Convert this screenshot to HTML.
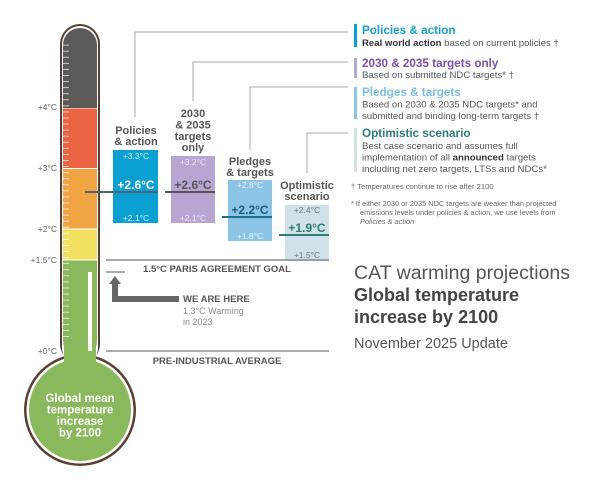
<!DOCTYPE html>
<html><head><meta charset="utf-8"><style>
body{margin:0;background:#fff;width:600px;height:491px;overflow:hidden}
svg text{font-family:"Liberation Sans",sans-serif}
</style></head><body>
<svg width="600" height="491" viewBox="0 0 600 491" xmlns="http://www.w3.org/2000/svg">
<defs>
<pattern id="tk" x="0" y="2.2" width="20" height="6.07" patternUnits="userSpaceOnUse">
<rect x="0" y="0" width="9" height="0.9" fill="#fff" opacity="0.75"/>
</pattern>
<clipPath id="tube"><rect x="63" y="28" width="34" height="330" rx="17"/></clipPath>
</defs>
<rect x="60" y="24" width="40" height="340" rx="20" fill="#5b3e33"/>
<circle cx="80" cy="410" r="56" fill="#5b3e33"/>
<rect x="62" y="26" width="36" height="340" rx="18" fill="#fff"/>
<circle cx="80" cy="410" r="53.5" fill="#fff"/>
<g clip-path="url(#tube)">
<rect x="63" y="28" width="34" height="80" fill="#5d5958"/>
<rect x="63" y="108.5" width="34" height="59.5" fill="#ea6444"/>
<rect x="63" y="169" width="34" height="59.5" fill="#f1a444"/>
<rect x="63" y="229.5" width="34" height="30" fill="#f2e060"/>
<rect x="63" y="260.5" width="34" height="100" fill="#8ab85c"/>
<rect x="63" y="44" width="12" height="306" fill="url(#tk)"/>
</g>
<circle cx="80" cy="410" r="51" fill="#8ab85c"/>
<rect x="64" y="340" width="32" height="30" fill="#8ab85c"/>
<rect x="88" y="272" width="4" height="79" fill="#fff"/>
<text x="80" y="402" font-size="11.5" font-weight="bold" fill="#fff" text-anchor="middle">
<tspan x="80" y="402">Global mean</tspan><tspan x="80" y="413.5">temperature</tspan><tspan x="80" y="425">increase</tspan><tspan x="80" y="436.5">by 2100</tspan></text>
<g font-size="8.5" fill="#666" text-anchor="end">
<text x="57" y="110">+4°C</text><text x="57" y="171">+3°C</text><text x="57" y="232">+2°C</text><text x="57" y="263">+1.5°C</text><text x="57" y="354">+0°C</text>
</g>
<g stroke="#aaa" stroke-width="1" fill="none">
<polyline points="135,117 135,32 348,32"/>
<polyline points="193,101 193,62 348,62"/>
<polyline points="250,150 250,87 348,87"/>
<polyline points="307,173 307,133 348,133"/>
</g>
<g font-size="11" font-weight="bold" fill="#555" text-anchor="middle">
<text x="136" y="134">Policies</text><text x="136" y="145">&amp; action</text>
<text x="193" y="117">2030</text><text x="193" y="128.5">&amp; 2035</text><text x="193" y="140">targets</text><text x="193" y="151">only</text>
<text x="250" y="165">Pledges</text><text x="250" y="176">&amp; targets</text>
<text x="307" y="189">Optimistic</text><text x="307" y="200">scenario</text>
</g>
<rect x="113" y="150" width="45" height="73" fill="#0aa0d2"/>
<rect x="171" y="156" width="44" height="67" fill="#b8a6d2"/>
<rect x="228" y="180" width="44" height="61" fill="#8cc4e6"/>
<rect x="285" y="205" width="44" height="56" fill="#cfe2ea"/>
<line x1="85" y1="192" x2="158" y2="192" stroke="#4a6478" stroke-width="2"/>
<line x1="165" y1="192" x2="215" y2="192" stroke="#555" stroke-width="2"/>
<line x1="222" y1="217" x2="272" y2="217" stroke="#1d6e8e" stroke-width="2"/>
<line x1="279" y1="235" x2="329" y2="235" stroke="#2f7a7a" stroke-width="2"/>
<g text-anchor="middle" font-size="8.5">
<text x="136" y="159" fill="#d6eef8">+3.3°C</text><text x="136" y="189" fill="#fff" font-size="12" font-weight="bold">+2.6°C</text><text x="136" y="221" fill="#d6eef8">+2.1°C</text>
<text x="193" y="165" fill="#ece6f4">+3.2°C</text><text x="193" y="189" fill="#555" font-size="12" font-weight="bold">+2.6°C</text><text x="193" y="221" fill="#ece6f4">+2.1°C</text>
<text x="250" y="188" fill="#e6f3fb">+2.8°C</text><text x="250" y="214" fill="#1d5e7e" font-size="12" font-weight="bold">+2.2°C</text><text x="250" y="239" fill="#e6f3fb">+1.8°C</text>
<text x="307" y="213" fill="#6a7a80">+2.4°C</text><text x="307" y="232" fill="#2f7a6a" font-size="12" font-weight="bold">+1.9°C</text><text x="307" y="258" fill="#6a7a80">+1.5°C</text>
</g>
<line x1="106" y1="260" x2="329" y2="260" stroke="#777" stroke-width="1.3"/>
<text x="217" y="272" font-size="9.5" font-weight="bold" fill="#555" text-anchor="middle">1.5°C PARIS AGREEMENT GOAL</text>
<line x1="106" y1="272" x2="125" y2="272" stroke="#777" stroke-width="1.3"/>
<polygon points="115,276 109,284 121,284" fill="#666"/>
<polyline points="115,283 115,299 179,299" fill="none" stroke="#666" stroke-width="6"/>
<text x="183" y="302" font-size="9.5" font-weight="bold" fill="#555">WE ARE HERE</text>
<text x="183" y="314" font-size="9" fill="#888">1.3°C Warming</text>
<text x="183" y="325" font-size="9" fill="#888">in 2023</text>
<line x1="106" y1="351" x2="329" y2="351" stroke="#777" stroke-width="1.3"/>
<text x="217" y="364" font-size="9.5" font-weight="bold" fill="#555" text-anchor="middle">PRE-INDUSTRIAL AVERAGE</text>
<rect x="354" y="24" width="3" height="23" fill="#0aa0d2"/>
<text x="362" y="34" font-size="11.7" font-weight="bold" fill="#1aa0d0">Policies &amp; action</text>
<text x="362" y="46" font-size="9.6" fill="#555"><tspan font-weight="bold" fill="#333">Real world action</tspan> based on current policies †</text>
<rect x="354" y="58" width="3" height="20" fill="#b8a6d2"/>
<text x="362" y="67" font-size="11.7" font-weight="bold" fill="#7b50a6">2030 &amp; 2035 targets only</text>
<text x="362" y="78" font-size="9.6" fill="#555">Based on submitted NDC targets* †</text>
<rect x="354" y="87" width="3" height="32" fill="#8cc4e6"/>
<text x="362" y="96" font-size="11.7" font-weight="bold" fill="#7cbde4">Pledges &amp; targets</text>
<text x="362" y="107.5" font-size="9.6" fill="#555">Based on 2030 &amp; 2035 NDC targets* and</text>
<text x="362" y="119" font-size="9.6" fill="#555">submitted and binding long-term targets †</text>
<rect x="354" y="128" width="3" height="44" fill="#cfe2ea"/>
<text x="362" y="137" font-size="11.7" font-weight="bold" fill="#2f7a7a">Optimistic scenario</text>
<text x="362" y="149" font-size="9.6" fill="#555">Best case scenario and assumes full</text>
<text x="362" y="160.5" font-size="9.6" fill="#555">implementation of all <tspan font-weight="bold" fill="#333">announced</tspan> targets</text>
<text x="362" y="172" font-size="9.6" fill="#555">including net zero targets, LTSs and NDCs*</text>
<text x="351" y="189" font-size="7.6" fill="#666">† Temperatures continue to rise after 2100</text>
<text x="351" y="206" font-size="7.4" fill="#666">* If either 2030 or 2035 NDC targets are weaker than projected</text>
<text x="360" y="215" font-size="7.4" fill="#666">emissions levels under policies &amp; action, we use levels from</text>
<text x="360" y="224" font-size="7.4" fill="#666" font-style="italic">Policies &amp; action</text>
<text x="354" y="279" font-size="19.5" fill="#555">CAT warming projections</text>
<text x="354" y="301" font-size="18" font-weight="bold" fill="#444">Global temperature</text>
<text x="354" y="323" font-size="18" font-weight="bold" fill="#444">increase by 2100</text>
<text x="354" y="348" font-size="14.5" fill="#555">November 2025 Update</text>
</svg>
</body></html>
